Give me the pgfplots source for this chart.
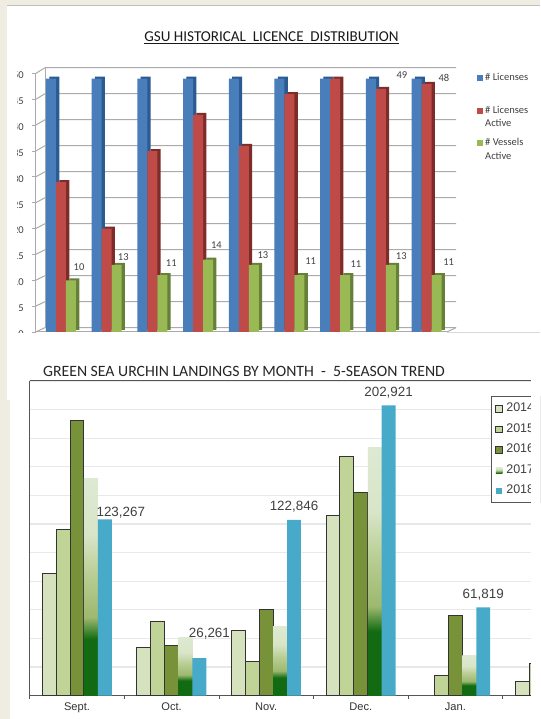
\documentclass[border=0pt]{standalone}
\usepackage{pgfplots}
\usepackage{pgfplotstable}
\usepackage{fontspec}
\pgfplotsset{compat=1.18}
\setmainfont{Carlito}
\newfontfamily\arial{Liberation Sans}

\definecolor{cream}{HTML}{EFEDE2}
\definecolor{blueF}{HTML}{4A7EBB}
\definecolor{blueS}{HTML}{2C5A92}
\definecolor{redF}{HTML}{BE4B48}
\definecolor{redS}{HTML}{7E2C2A}
\definecolor{greenF}{HTML}{98B954}
\definecolor{greenS}{HTML}{66803A}
\definecolor{wallgrid}{HTML}{ABABAB}
\definecolor{txt}{HTML}{404040}
\definecolor{yA}{HTML}{D6E2BD}
\definecolor{yB}{HTML}{C1D498}
\definecolor{yC}{HTML}{789239}
\definecolor{yD}{HTML}{126B12}
\definecolor{yE}{HTML}{47AAC8}
\definecolor{grid2}{HTML}{E8E8E8}
\definecolor{frame2}{HTML}{555555}
\definecolor{gr1}{HTML}{9DB86F}
\definecolor{gr2}{HTML}{B9CE94}
\definecolor{gr3}{HTML}{D8E5C8}
\definecolor{gr4}{HTML}{DDEAD2}

% 25bp..75bp of the shading is what the bar covers
\pgfdeclareverticalshading{grad17}{100bp}{
  color(0bp)=(yD); color(38bp)=(yD);
  color(43bp)=(gr1); color(53bp)=(gr2); color(62bp)=(gr3);
  color(75bp)=(gr4); color(100bp)=(gr4)}

% dx, dy: label offset from the group centre and the bar top
\pgfplotstableread{
x b r g dx dy
0 49 29 10 18.0 13.0
1 49 20 13 16.6 8.1
2 49 35 11 18.9 12.3
3 49 42 14 18.3 14.3
4 49 36 13 19.2 9.5
5 49 46 11 21.2 14.3
6 49 49 11 20.8 11.3
7 49 47 13 20.4 9.1
8 49 48 11 22.1 13.3
}\licences

\pgfplotstableread{
x y
0 85200
1 33500
2 45600
3 126000
5 10200
}\sA
\pgfplotstableread{
x y
0 116200
1 52200
2 23800
3 167200
4 14400
5 22600
}\sB
\pgfplotstableread{
x y
0 192100
1 34900
2 60500
3 142100
4 56100
}\sC
\pgfplotstableread{
x y lab dx dy
0 123267 123,267 43.8 6.7
1 26261 26,261 37.8 24.6
2 122846 122,846 27.8 13
3 202921 202,921 27.8 12.4
4 61819 61,819 27.8 12.6
}\sE

\begin{document}
\begin{tikzpicture}[x=1pt,y=1pt,
  labelnode/.style={anchor=center,font=\fontsize{10.5}{12}\selectfont,text=txt}]
\path[use as bounding box,clip] (0,0) rectangle (540,719);
\fill[cream] (0,0) rectangle (540,719);
\fill[white] (7,319) rectangle (540,714);
\fill[white] (10,0) rectangle (540,320);
\draw[black!25,line width=.8pt] (7,714) -- (540,714);

% back wall of the 3D chart
\foreach \v in {0,5,...,50} {
  \draw[wallgrid,line width=1pt] (35.7,387+\v*5.17) -- (45,391.3+\v*5.2) -- (456,391.3+\v*5.2);
}
\draw[wallgrid,line width=1pt] (45,391.3) -- (45,651.3);
\draw[wallgrid,line width=1pt] (446.7,387) -- (456,391.3);
\draw[black!15,line width=1pt] (446.7,386.5) -- (540,386.5);

\begin{axis}[
  name=top,
  at={(35.7pt,387pt)},anchor=south west,
  scale only axis,width=411pt,height=258.5pt,
  xmin=-0.5536,xmax=8.44,ymin=0,ymax=50,
  clip=false,
  axis x line*=bottom,axis y line*=left,
  axis line style={wallgrid,line width=1pt,-},
  xtick=\empty,
  ytick={0,5,...,50},
  tick style={wallgrid,line width=.8pt},
  tick align=outside,major tick length=3.5pt,
  yticklabel style={font=\fontsize{10.5}{12}\selectfont,text=txt,xshift=-5pt,yshift=-2pt},
  /pgf/number format/assume math mode=true,
  title={\underline{GSU HISTORICAL\ \ LICENCE\ \ DISTRIBUTION}},
  title style={at={(0.5737,1.114)},anchor=center,font=\fontsize{15.1}{16}\selectfont,text=black!90},
  bars/.style={ybar,bar width=10pt,draw=none},
  shadow/.style={yshift=2pt,forget plot},
  legend style={at={(441.3pt,261pt)},anchor=north west,draw=none,fill=none,inner sep=0pt,
    font=\fontsize{10.5}{13.4}\selectfont,text=txt,row sep=6.5pt,
    cells={align=left,anchor=base west},column sep=0pt},
  legend image code/.code={\fill[#1] (0pt,12.9pt) rectangle (6pt,18.9pt);},
]
\addplot[bars,bar shift=-6.7pt,fill=blueS,shadow] table[x=x,y=b] {\licences};
\addplot[bars,bar shift=-10pt,fill=blueF] table[x=x,y=b] {\licences};
\addlegendentry{\# Licenses\\\phantom{A}}
\addplot[bars,bar shift=3.3pt,fill=redS,shadow] table[x=x,y=r] {\licences};
\addplot[bars,bar shift=0pt,fill=redF] table[x=x,y=r] {\licences};
\addlegendentry{\# Licenses\\Active}
\addplot[bars,bar shift=13.3pt,fill=greenS,shadow] table[x=x,y=g] {\licences};
\addplot[bars,bar shift=10pt,fill=greenF,
  nodes near coords,point meta=explicit symbolic,
  visualization depends on={\thisrow{dx} \as \dx},
  visualization depends on={\thisrow{dy} \as \dy},
  every node near coord/.append style={labelnode,xshift=\dx pt,yshift=\dy pt}]
  table[x=x,y=g,meta=g] {\licences};
\addlegendentry{\# Vessels\\Active}
\addplot[bars,bar shift=-10pt,fill=none,forget plot,nodes near coords,point meta=y,
  every node near coord/.append style={labelnode,xshift=21pt,yshift=3.4pt}]
  coordinates {(7,49)};
\addplot[bars,bar shift=0pt,fill=none,forget plot,nodes near coords,point meta=y,
  every node near coord/.append style={labelnode,xshift=17.4pt,yshift=5.5pt}]
  coordinates {(8,48)};
\end{axis}

% the crop of the first chart eats the tick labels
\fill[white] (7,372) rectangle (17,665);
\fill[white] (7,345) rectangle (34,385.5);

\begin{axis}[
  at={(29.7pt,23.3pt)},anchor=south west,
  scale only axis,width=501.3pt,height=314.7pt,
  xmin=-0.5,xmax=4.799,ymin=0,ymax=220000,
  axis x line*=bottom,axis y line*=left,
  axis line style={frame2,line width=1pt,-},
  ytick={0,20000,...,220000},yticklabels={},
  scaled y ticks=false,
  ymajorgrids,
  grid style={grid2,line width=1.2pt},
  major y tick style={draw=none},
  xtick={0,1,2,3,4},
  xticklabels={Sept.,Oct.,Nov.,Dec.,Jan.},
  major x tick style={draw=none},
  minor xtick={-0.5,0.5,...,4.5},
  minor tick style={frame2,line width=.8pt},
  minor tick length=3pt,tick align=outside,
  xticklabel style={font=\arial\fontsize{11.1}{13}\selectfont,text=black!80,yshift=1pt},
  title={GREEN SEA URCHIN LANDINGS BY MONTH\ \ -\ \ 5-SEASON TREND},
  title style={at={(0.4275,1.0127)},anchor=center,font=\fontsize{15.75}{17}\selectfont,text=black!85},
  barz/.style={ybar,bar width=13.9pt},
  outl/.style={draw=black!80,line width=1pt},
  g17/.style={barz,bar shift=13.9pt,draw=none,shading=grad17},
  legend style={at={(461.2pt,300.1pt)},anchor=north west,draw=frame2,fill=white,
    line width=.8pt,inner xsep=4pt,inner ysep=5pt,
    font=\arial\fontsize{12.5}{14}\selectfont,text=black!75,row sep=6.3pt,
    cells={anchor=base west},column sep=1.5pt},
  legend image code/.code={\path[#1] (0pt,-.5pt) rectangle (6.5pt,6pt);},
]
\addplot[barz,bar shift=-27.8pt,outl,fill=yA] table[x=x,y=y] {\sA};
\addlegendentry{2014}
\addplot[barz,bar shift=-13.9pt,outl,fill=yB] table[x=x,y=y] {\sB};
\addlegendentry{2015}
\addplot[barz,bar shift=0pt,outl,fill=yC] table[x=x,y=y] {\sC};
\addlegendentry{2016}
% one plot per bar: a shading spans the whole path of a plot
\addplot[g17] coordinates {(0,152100)};
\addlegendentry{2017}
\addplot[g17,forget plot] coordinates {(1,40500)};
\addplot[g17,forget plot] coordinates {(2,48400)};
\addplot[g17,forget plot] coordinates {(3,173300)};
\addplot[g17,forget plot] coordinates {(4,27900)};
\addplot[barz,bar shift=27.8pt,draw=none,fill=yE,
  nodes near coords,point meta=explicit symbolic,
  visualization depends on={\thisrow{dx} \as \dx},
  visualization depends on={\thisrow{dy} \as \dy},
  every node near coord/.append style={anchor=center,xshift=\dx pt,yshift=\dy pt,
    font=\arial\fontsize{13.4}{15}\selectfont,text=black!75}]
  table[x=x,y=y,meta=lab] {\sE};
\addlegendentry{2018}
\end{axis}
\draw[frame2,line width=1pt] (29.7,338) -- (531,338);
\fill[white] (531,20) rectangle (540,345);
\end{tikzpicture}
\end{document}
